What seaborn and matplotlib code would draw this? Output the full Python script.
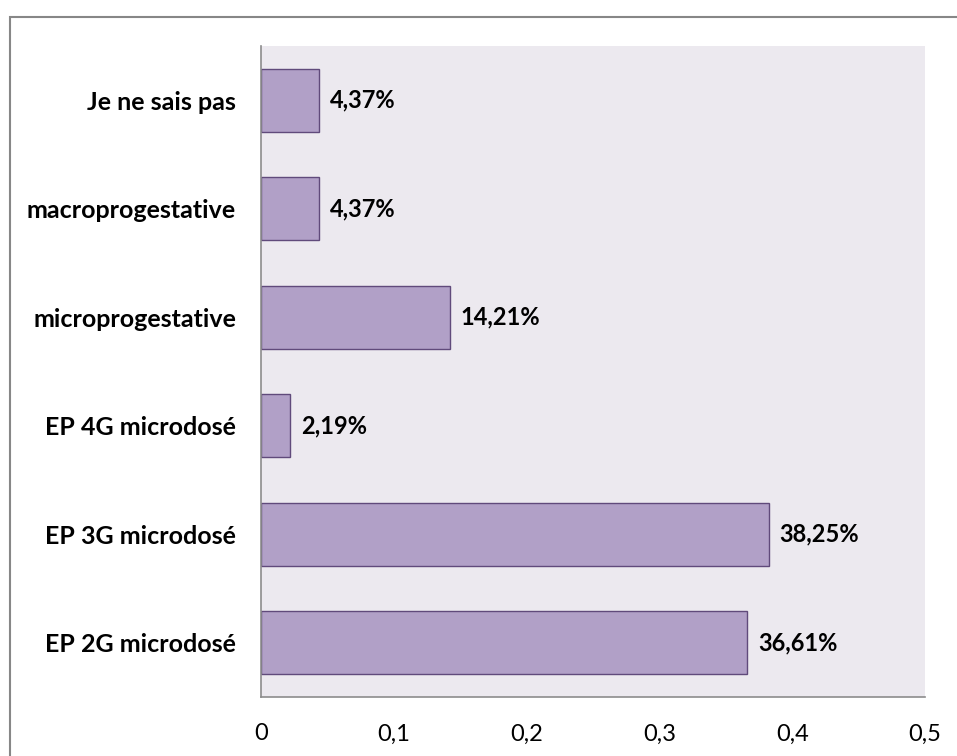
import matplotlib
matplotlib.use("Agg")
import matplotlib.pyplot as plt
from matplotlib.patches import Rectangle
from matplotlib.ticker import FuncFormatter
import seaborn as sns
import pandas as pd

categories = ["Je ne sais pas", "macroprogestative", "microprogestative",
              "EP 4G microdosé", "EP 3G microdosé", "EP 2G microdosé"]
values = [0.0437, 0.0437, 0.1421, 0.0219, 0.3825, 0.3661]
value_labels = ["4,37%", "4,37%", "14,21%", "2,19%", "38,25%", "36,61%"]
x_ticks = [0, 0.1, 0.2, 0.3, 0.4, 0.5]

df = pd.DataFrame({"categorie": categories, "part": values})

sns.set_theme(style="white")
plt.rcParams["font.family"] = ["Lato", "DejaVu Sans"]

W, H = 957, 756
fig = plt.figure(figsize=(W / 100, H / 100), dpi=100)
ax = fig.add_axes([261 / W, 1 - 697 / H, (925 - 261) / W, (697 - 46) / H])
ax.set_facecolor("#ECE9EF")

sns.barplot(data=df, y="categorie", x="part", orient="h", ax=ax,
            color="#B1A0C7", edgecolor="#604A7B", linewidth=1.0,
            width=0.58, saturation=1)

for i, (v, lab) in enumerate(zip(values, value_labels)):
    ax.text(v + 0.008, i, lab, va="center", ha="left",
            fontsize=17, fontweight="bold", color="black")

ax.set_xlim(0, 0.5)
ax.set_ylim(5.5, -0.5)
ax.set_xticks(x_ticks)
ax.xaxis.set_major_formatter(FuncFormatter(lambda x, p: ("%g" % x).replace(".", ",")))
ax.set_xlabel("")
ax.set_ylabel("")
ax.tick_params(axis="x", length=0, pad=19, labelsize=17, colors="black")
ax.tick_params(axis="y", length=0, pad=18, labelsize=18, colors="black")
for t in ax.get_yticklabels():
    t.set_fontweight("bold")

for side in ["top", "right"]:
    ax.spines[side].set_visible(False)
for side in ["left", "bottom"]:
    ax.spines[side].set_visible(True)
    ax.spines[side].set_color("#8C8C8C")
    ax.spines[side].set_linewidth(1.2)

# outer chart frame
fig.patches.append(Rectangle((9.5 / W, -0.1), 1.2, 1 - 16.5 / H + 0.1,
                             transform=fig.transFigure, fill=False,
                             edgecolor="#878787", linewidth=1.5, zorder=0))

fig.savefig("out.png", dpi=100, facecolor="white")
